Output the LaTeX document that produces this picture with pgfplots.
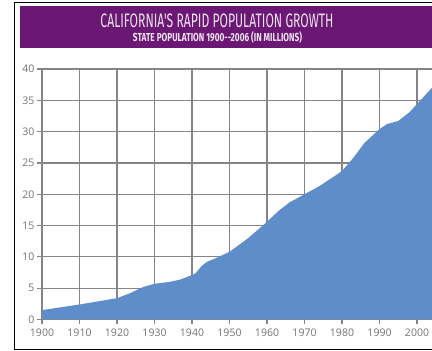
\documentclass[border=0pt]{standalone}
\usepackage{pgfplots}
\pgfplotsset{compat=1.18}
\usepackage{fontspec}
\usepackage{graphicx}
\setmainfont{Open Sans}
\newfontfamily\titlefont{Fira Sans}
\newfontfamily\tickfont{Open Sans}
\definecolor{banner}{HTML}{6A1873}
\definecolor{bannertext}{HTML}{EEE2EF}
\definecolor{popfill}{HTML}{5E8DCA}
\definecolor{gridgray}{HTML}{858585}
\definecolor{labelgray}{HTML}{737373}

\begin{document}
\begin{tikzpicture}[x=1pt,y=1pt]
\useasboundingbox (0,0) rectangle (432,351);
\fill[white] (0,0) rectangle (432,351);
% outer frame and title banner
\draw[black,line width=1pt] (14,1.7) rectangle (445,348.3);
\fill[banner] (20,303.3) rectangle (445,345.3);
\node[text=bannertext,inner sep=0pt] at (217,330.3)
  {\resizebox{233pt}{\height}{\titlefont\fontsize{19.5}{20}\selectfont CALIFORNIA'S RAPID POPULATION GROWTH}};
\node[text=bannertext,inner sep=0pt] at (217.5,313.3)
  {\resizebox{169pt}{\height}{\titlefont\bfseries\fontsize{11.6}{12}\selectfont STATE POPULATION 1900--2006 (IN MILLIONS)}};

\begin{axis}[
  at={(42pt,31.5pt)}, anchor=south west,
  scale only axis, width=390pt, height=250.5pt,
  xmin=1900, xmax=2004, ymin=0, ymax=40,
  axis lines=left, axis line style={-,gridgray,line width=1.2pt},
  xtick={1900,1910,...,2000}, ytick={0,5,...,40},
  grid=major, major grid style={gridgray,line width=1.2pt},
  tick style={gridgray,line width=1.2pt},
  tick align=outside, major tick length=5pt,
  ticklabel style={font=\tickfont\fontsize{10.5}{11}\selectfont, text=labelgray},
  xticklabel style={yshift=-1pt},
  yticklabel style={xshift=1pt},
  /pgf/number format/assume math mode=true,
  /pgf/number format/set thousands separator={},
  clip=true,
]
\addplot[draw=none, fill=popfill] coordinates {
  (1900,0) (1900,1.5) (1905,1.95) (1910,2.4) (1915,2.9) (1920,3.4)
  (1923.5,4.2) (1927,5.2) (1930,5.7) (1934,6.0) (1937,6.4) (1940,7.1)
  (1941,7.4) (1942.5,8.5) (1944,9.2) (1946,9.7) (1950,10.8) (1955,13.0)
  (1960,15.6) (1963,17.3) (1966,18.7) (1970,20.0) (1974,21.3) (1977,22.5)
  (1980,23.7) (1983,25.8) (1986,28.2) (1990,30.4) (1992,31.2) (1995,31.7)
  (1998,33.1) (2000,34.4) (2004,37.0) (2006,38.2) (2006,0)
} \closedcycle;
\end{axis}
\end{tikzpicture}
\end{document}
